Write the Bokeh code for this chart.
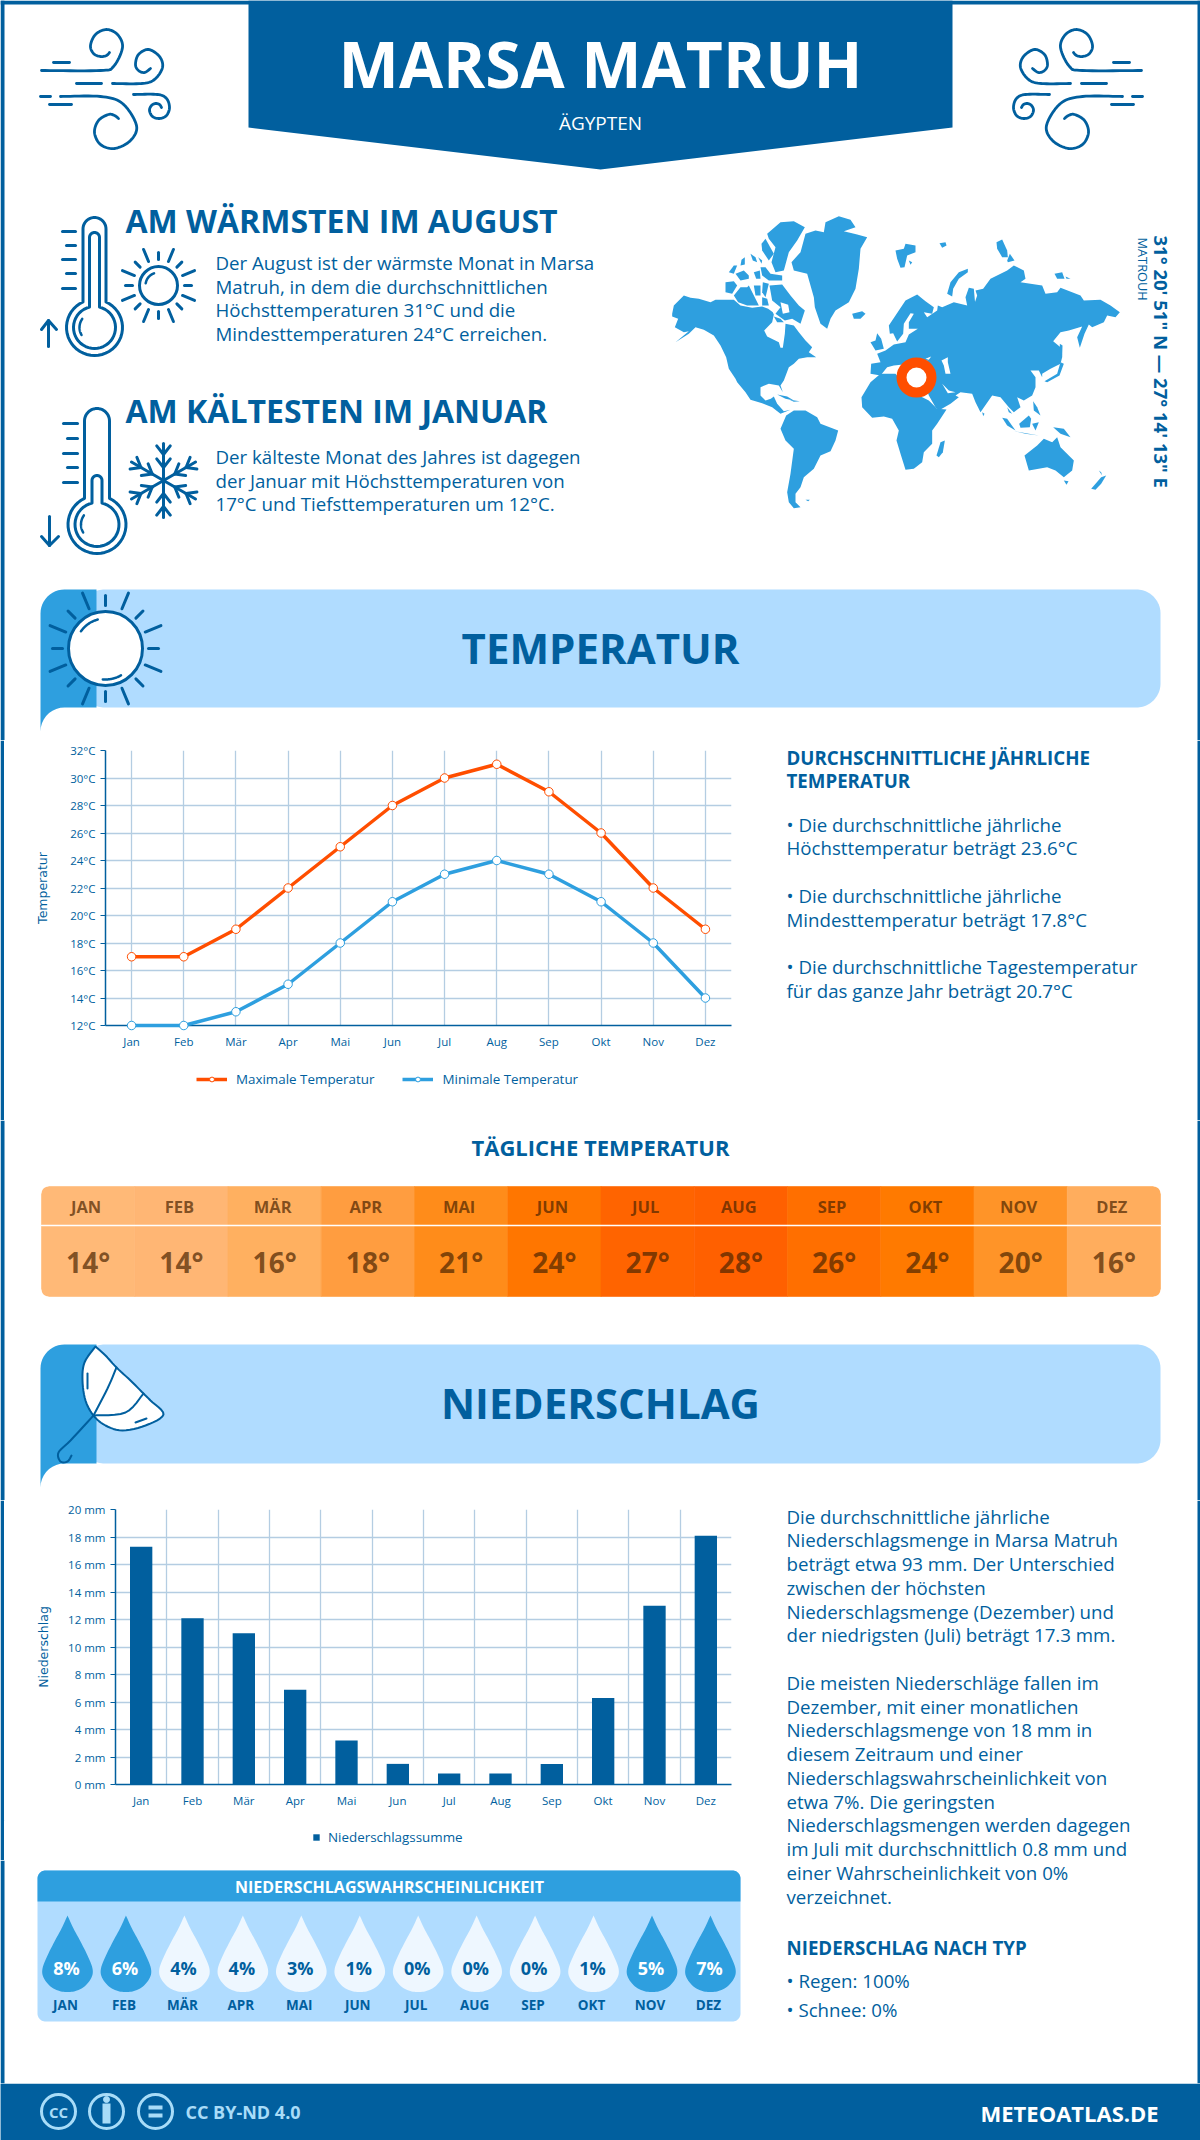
import math
from bokeh.plotting import figure
from bokeh.layouts import column, row
from bokeh.models import Range1d, FactorRange, FixedTicker, PrintfTickFormatter, Legend, LegendItem
from bokeh.core.properties import value
from bokeh.embed import file_html
from bokeh.resources import INLINE

# ---------- data ----------
MONTHS = ["Jan", "Feb", "Mär", "Apr", "Mai", "Jun", "Jul", "Aug", "Sep", "Okt", "Nov", "Dez"]
MONTHS_UP = ["JAN", "FEB", "MÄR", "APR", "MAI", "JUN", "JUL", "AUG", "SEP", "OKT", "NOV", "DEZ"]
TEMP_MAX = [17, 17, 19, 22, 25, 28, 30, 31, 29, 26, 22, 19]
TEMP_MIN = [12, 12, 13, 15, 18, 21, 23, 24, 23, 21, 18, 14]
DAILY = [14, 14, 16, 18, 21, 24, 27, 28, 26, 24, 20, 16]
PRECIP = [17.3, 12.1, 11.0, 6.9, 3.2, 1.5, 0.8, 0.8, 1.5, 6.3, 13.0, 18.1]
PROB = [8, 6, 4, 4, 3, 1, 0, 0, 0, 1, 5, 7]
DAILY_COLORS = ["#ffb977", "#ffb674", "#ffb060", "#ff9d40", "#ff8c1a", "#ff7600",
                "#ff6400", "#ff6000", "#ff6f00", "#ff7a00", "#ff9428", "#ffad5d"]

WARM_TEXT = ["Der August ist der wärmste Monat in Marsa", "Matruh, in dem die durchschnittlichen",
             "Höchsttemperaturen 31°C und die", "Mindesttemperaturen 24°C erreichen."]
COLD_TEXT = ["Der kälteste Monat des Jahres ist dagegen", "der Januar mit Höchsttemperaturen von",
             "17°C und Tiefsttemperaturen um 12°C."]
TEMP_SIDE = [("• Die durchschnittliche jährliche", 824), ("Höchsttemperatur beträgt 23.6°C", 847),
             ("• Die durchschnittliche jährliche", 895), ("Mindesttemperatur beträgt 17.8°C", 919),
             ("• Die durchschnittliche Tagestemperatur", 966), ("für das ganze Jahr beträgt 20.7°C", 990)]
PRECIP_SIDE = [("Die durchschnittliche jährliche", 1516), ("Niederschlagsmenge in Marsa Matruh", 1539),
               ("beträgt etwa 93 mm. Der Unterschied", 1563), ("zwischen der höchsten", 1587),
               ("Niederschlagsmenge (Dezember) und", 1611), ("der niedrigsten (Juli) beträgt 17.3 mm.", 1634),
               ("Die meisten Niederschläge fallen im", 1682), ("Dezember, mit einer monatlichen", 1706),
               ("Niederschlagsmenge von 18 mm in", 1729), ("diesem Zeitraum und einer", 1753),
               ("Niederschlagswahrscheinlichkeit von", 1777), ("etwa 7%. Die geringsten", 1801),
               ("Niederschlagsmengen werden dagegen", 1824), ("im Juli mit durchschnittlich 0.8 mm und", 1848),
               ("einer Wahrscheinlichkeit von 0%", 1872), ("verzeichnet.", 1896),
               ("• Regen: 100%", 1980), ("• Schnee: 0%", 2009)]

DARK = "#015f9e"
MID = "#2e9fdf"
LIGHT = "#b0dcff"
ORANGE = "#ff4e00"
GRID = "#b4cde2"
FONT = "Open Sans"
PX0, PX1, PY0, PY1 = 0, 1200, 0, 2140
BODY = 18.7


# ---------- helpers ----------
def canvas(x0, x1, y0, y1):
    p = figure(width=x1 - x0, height=y1 - y0, x_range=Range1d(x0, x1), y_range=Range1d(y1, y0),
               x_axis_location=None, y_axis_location=None, toolbar_location=None,
               output_backend="svg", min_border=0, outline_line_color=None, background_fill_color="white")
    p.xgrid.visible = False
    p.ygrid.visible = False
    if x0 == PX0:
        p.quad(left=[x0], right=[x0 + 4], top=[y0], bottom=[y1], color=DARK, line_color=None)
    if x1 == PX1:
        p.quad(left=[x1 - 3], right=[x1], top=[y0], bottom=[y1], color=DARK, line_color=None)
    return p


def T(p, x, y, s, size, bold=False, color=DARK, align="left", angle=0.0, alpha=1.0, font=FONT):
    p.text(x=[x], y=[y], text=[s], text_font=value(font), text_font_size=value(f"{size}px"),
           text_font_style="bold" if bold else "normal", text_color=color, text_alpha=alpha,
           text_align=align, text_baseline="middle", angle=angle)


def smooth(pts, n=10):
    P = [pts[0]] + list(pts) + [pts[-1]]
    xs, ys = [], []
    for i in range(1, len(P) - 2):
        for k in range(n):
            t = k / n
            a, b, c, d = P[i - 1], P[i], P[i + 1], P[i + 2]
            for j, out in ((0, xs), (1, ys)):
                out.append(0.5 * (2 * b[j] + (c[j] - a[j]) * t + (2 * a[j] - 5 * b[j] + 4 * c[j] - d[j]) * t * t
                                  + (3 * b[j] - a[j] - 3 * c[j] + d[j]) * t ** 3))
    xs.append(P[-2][0])
    ys.append(P[-2][1])
    return xs, ys


def arc(cx, cy, r, a0, a1, n=24):
    return [(cx + r * math.cos(math.radians(a0 + (a1 - a0) * i / n)),
             cy + r * math.sin(math.radians(a0 + (a1 - a0) * i / n))) for i in range(n + 1)]


def rrect(x0, y0, x1, y1, r):
    pts = arc(x0 + r, y0 + r, r, 180, 270) + arc(x1 - r, y0 + r, r, 270, 360) + \
        arc(x1 - r, y1 - r, r, 0, 90) + arc(x0 + r, y1 - r, r, 90, 180)
    return [a[0] for a in pts], [a[1] for a in pts]


def L(p, xs, ys, w=3, color=DARK, cap="round"):
    p.line(xs, ys, line_width=w, line_color=color, line_cap=cap, line_join="round")


def seg(p, x0, y0, x1, y1, w=3, color=DARK):
    L(p, [x0, x1], [y0, y1], w, color)


def wind(p, mirror=None):
    f = (lambda x: x) if mirror is None else (lambda x: mirror - x)
    curves = [
        [(41, 70), (100, 70), (113, 66), (122, 47), (117, 34), (106, 29), (95, 34), (90, 45), (93, 53), (100, 56),
         (106, 55), (109, 52)],
        [(112, 83), (141, 83), (154, 79), (162, 67), (159, 56), (148, 49), (138, 54), (135, 64), (138, 70), (144, 72),
         (150, 68)],
        [(60, 96), (100, 96), (122, 103), (136, 125), (130, 140), (114, 148), (100, 144), (94, 132), (98, 120),
         (108, 114), (114, 115), (118, 118)],
        [(133, 94), (157, 94), (166, 98), (169, 107), (166, 115), (159, 118), (152, 116), (149, 110), (151, 105),
         (155, 103), (159, 104), (161, 107)],
    ]
    for c in curves:
        xs, ys = smooth(c)
        L(p, [f(x) for x in xs], ys, 2.8)
    for a, b, y in [(53, 69, 62), (76, 101, 83), (40, 50, 96), (49, 71, 104)]:
        seg(p, f(a), y, f(b), y, 2.8)


def therm(p, cx, top, tw, cy, r, itop, itw, ir):
    for t, w, rad in ((top, tw, r), (itop, itw, ir)):
        a = math.degrees(math.asin(w / rad))
        pts = arc(cx, t + w, w, 180, 360) + arc(cx, cy, rad, -90 + a, 270 - a, 40)
        L(p, [q[0] for q in pts] + [pts[0][0]], [q[1] for q in pts] + [pts[0][1]], 3)


def rays(p, cx, cy, r0, long_r, short_r, w=3):
    for i in range(16):
        a = math.radians(i * 22.5)
        rr = short_r if i % 2 == 0 else long_r
        seg(p, cx + r0 * math.sin(a), cy - r0 * math.cos(a), cx + rr * math.sin(a), cy - rr * math.cos(a), w)


def band(p, y0, y1):
    xs, ys = rrect(80, y0, 1160, y1, 24)
    p.patch(xs, ys, color=LIGHT, line_color=None)
    tail = arc(64, y0 + 24, 24, 180, 270, 12) + [(96, y0), (96, y1), (64, y1)] + \
        [(64 - 24 * math.sin(math.radians(t)), y1 + 24 - 24 * math.cos(math.radians(t))) for t in range(0, 91, 10)]
    p.patch([q[0] for q in tail], [q[1] for q in tail], color=MID, line_color=None)


# ---------- top section ----------
top = canvas(PX0, PX1, PY0, 740)
top.quad(left=[PX0], right=[PX1], top=[PY0], bottom=[PY0 + 4], color=DARK, line_color=None)
top.patch([248, 952, 952, 600, 248], [0, 0, 127, 169, 127], color=DARK, line_color=None)
wind(top)
wind(top, 1182)
T(top, 600, 63, "MARSA MATRUH", 64, True, "white", "center")
T(top, 600, 122, "ÄGYPTEN", 19, False, "white", "center")

T(top, 125, 220, "AM WÄRMSTEN IM AUGUST", 32, True)
T(top, 125, 410, "AM KÄLTESTEN IM JANUAR", 32, True)
for i, s in enumerate(WARM_TEXT):
    T(top, 215, 262 + i * 23.7, s, BODY)
for i, s in enumerate(COLD_TEXT):
    T(top, 215, 456 + i * 23.5, s, BODY)

therm(top, 94, 217, 11.5, 327, 28, 232, 5, 21)
for i, (a, y) in enumerate([(62, 231), (66, 245), (62, 259), (66, 273), (62, 288)]):
    seg(top, a, y, 75, y)
seg(top, 48, 320, 48, 346)
L(top, [41, 48, 56], [329, 320, 329])
top.circle([158], [285], radius=19, fill_color="white", line_color=DARK, line_width=3)
rays(top, 158, 285, 26, 39, 33)
L(top, *smooth(arc(158, 285, 13, 190, 250, 5)), 2.5)
L(top, *smooth(arc(94, 327, 15, 150, 215, 5)), 2.5)

therm(top, 96.5, 408, 12.5, 524, 29, 475, 5, 22)
for a, y in [(63, 423), (67, 438), (63, 453), (67, 467), (63, 482)]:
    seg(top, a, y, 77, y)
seg(top, 49, 516, 49, 545)
L(top, [41, 49, 58], [536, 545, 536])
L(top, *smooth(arc(96.5, 524, 16, 150, 215, 5)), 2.5)
for k in range(6):
    a = math.radians(k * 60)
    sx, cy_ = math.sin(a), -math.cos(a)
    cx0, cy0 = 163, 480
    seg(top, cx0, cy0, cx0 + 37 * sx, cy0 + 37 * cy_, 3)
    for rr, spread in ((26, 9), (13, 9)):
        for sgn in (-1, 1):
            bx_, by_ = cx0 + rr * sx, cy0 + rr * cy_
            a2 = a + sgn * math.radians(38)
            seg(top, bx_, by_, bx_ + (spread + 2) * math.sin(a2), by_ - (spread + 2) * math.cos(a2), 3)

# world map outline, traced by hand from two crops of the picture
WEST = [
    [(20, 310), (25, 285), (55, 255), (75, 262), (100, 265), (135, 275), (150, 268), (175, 268), (205, 268), (225, 285),
     (260, 292), (290, 288), (308, 295), (322, 305), (325, 312), (320, 335), (296, 360), (305, 378), (340, 395),
     (345, 412), (352, 412), (358, 370), (360, 340), (385, 345), (400, 365), (420, 390), (440, 410), (430, 425),
     (452, 440), (425, 440), (400, 445), (385, 460), (370, 470), (355, 510), (345, 525), (352, 545), (340, 525),
     (310, 520), (285, 530), (285, 555), (300, 570), (316, 565), (325, 558), (335, 580), (355, 602), (375, 598),
     (345, 610), (320, 590), (290, 578), (255, 568), (240, 545), (215, 515), (210, 505), (190, 475), (182, 440),
     (165, 405), (145, 375), (115, 358), (90, 350), (70, 370), (30, 395), (70, 362), (55, 365), (28, 350), (38, 325),
     (20, 318)],
    [(378, 155), (405, 125), (420, 70), (450, 60), (475, 65), (480, 35), (520, 17), (555, 28), (570, 50), (535, 62),
     (575, 72), (605, 80), (585, 115), (580, 175), (570, 235), (550, 275), (510, 300), (495, 325), (485, 355),
     (465, 340), (448, 290), (445, 260), (425, 190), (385, 180)],
    [(305, 70), (345, 35), (385, 32), (418, 50), (395, 90), (370, 125), (355, 180), (330, 185), (318, 155), (330, 110),
     (310, 85)],
    [(288, 100), (300, 85), (325, 130), (310, 150), (290, 120)],
    [(190, 185), (205, 165), (215, 165), (205, 190)],
    [(228, 148), (238, 140), (238, 162), (225, 165)],
    [(210, 190), (235, 180), (250, 195), (250, 205), (225, 210)],
    [(255, 130), (270, 140), (275, 155), (262, 150)],
    [(278, 140), (290, 150), (288, 160)],
    [(265, 185), (283, 180), (285, 205), (272, 205)],
    [(285, 170), (300, 170), (315, 190), (350, 195), (350, 210), (310, 210), (290, 195)],
    [(180, 215), (205, 212), (215, 225), (200, 250), (180, 245)],
    [(205, 255), (225, 230), (245, 230), (250, 225), (270, 265), (280, 285), (245, 285), (218, 275)],
    [(265, 225), (285, 225), (285, 255), (270, 255)],
    [(292, 215), (310, 220), (300, 260), (290, 245)],
    [(290, 260), (305, 265), (310, 285), (290, 285)],
    [(312, 225), (350, 222), (375, 255), (400, 285), (418, 300), (405, 340), (380, 325), (358, 330), (330, 310),
     (345, 290), (320, 270)],
    [(325, 318), (345, 325), (355, 335), (335, 335)],
    [(560, 310), (590, 302), (600, 310), (585, 325), (565, 325)],
    [(335, 552), (365, 558), (385, 570), (360, 565)],
    [(372, 568), (403, 572), (385, 574)],
    [(345, 655), (362, 615), (385, 600), (420, 600), (455, 620), (465, 640), (518, 660), (510, 690), (495, 722),
     (465, 735), (445, 775), (415, 800), (405, 830), (390, 850), (390, 875), (405, 890), (385, 893), (370, 875),
     (365, 845), (375, 790), (385, 715), (360, 690)],
    [(420, 868), (433, 868), (428, 872)],
]
EAST = [
    [(105, 120), (130, 115), (135, 100), (165, 105), (165, 125), (140, 135), (132, 170), (120, 172), (110, 145)],
    [(145, 150), (155, 155), (150, 163)],
    [(237, 98), (255, 95), (258, 105), (245, 112)],
    [(260, 250), (270, 215), (295, 185), (322, 175), (322, 185), (295, 205), (278, 235), (275, 258)],
    [(408, 95), (425, 87), (440, 120), (442, 140), (425, 140), (410, 115)],
    [(440, 150), (448, 130), (462, 150), (442, 155)],
    [(582, 190), (605, 185), (612, 205), (590, 205)],
    [(615, 198), (630, 205), (618, 205)],
    [(85, 345), (115, 300), (135, 270), (170, 252), (195, 272), (220, 290), (215, 310), (190, 305), (200, 320), (230, 300),
     (232, 285), (245, 290), (280, 275), (320, 285), (315, 260), (325, 232), (340, 235), (345, 290), (335, 300),
     (350, 255), (345, 240), (368, 235), (390, 205), (440, 180), (460, 165), (490, 180), (495, 205), (480, 215),
     (545, 225), (555, 250), (590, 245), (600, 232), (660, 255), (670, 270), (720, 268), (750, 285), (778, 305),
     (765, 320), (740, 315), (730, 335), (695, 350), (685, 342), (672, 370), (658, 412), (650, 380), (665, 348),
     (625, 360), (600, 365), (578, 392), (600, 410), (605, 440), (600, 460), (570, 475), (545, 490), (545, 500),
     (535, 480), (510, 480), (525, 500), (525, 530), (515, 555), (490, 570), (470, 560), (480, 590), (460, 605),
     (445, 590), (420, 560), (395, 555), (360, 605), (345, 575), (335, 550), (300, 545), (285, 555), (295, 560),
     (270, 580), (235, 600), (225, 590), (205, 555), (200, 540), (215, 500), (210, 470), (200, 450), (150, 460),
     (100, 465), (80, 470), (60, 495), (30, 490), (32, 460), (60, 455), (50, 430), (75, 420), (100, 402), (135, 395),
     (145, 372), (172, 355), (145, 355), (145, 335), (160, 310), (150, 308), (130, 340), (128, 370), (110, 393),
     (98, 368), (88, 370)],
    [(30, 395), (45, 390), (50, 368), (62, 385), (70, 415), (45, 420)],
    [(3, 560), (30, 515), (60, 490), (105, 490), (130, 520), (175, 555), (205, 570), (230, 595), (258, 597), (230, 640),
     (215, 660), (215, 700), (190, 725), (185, 755), (160, 775), (135, 778), (120, 730), (108, 690), (115, 660),
     (95, 625), (70, 618), (35, 622), (5, 590)],
    [(228, 735), (240, 695), (253, 690), (247, 725), (235, 740)],
    [(365, 605), (372, 610), (368, 617)],
    [(552, 512), (590, 490), (600, 455), (610, 460), (597, 495), (560, 515)],
    [(598, 400), (606, 405), (605, 440), (598, 430)],
    [(425, 622), (440, 625), (465, 660), (440, 645)],
    [(462, 662), (535, 675), (495, 670)],
    [(476, 640), (505, 615), (512, 625), (508, 650), (480, 652)],
    [(440, 590), (455, 610), (445, 605)],
    [(518, 572), (530, 590), (540, 615), (520, 600)],
    [(515, 640), (535, 635), (525, 660)],
    [(578, 650), (610, 655), (630, 680), (600, 670)],
    [(492, 735), (530, 705), (550, 685), (575, 695), (590, 680), (600, 710), (640, 750), (635, 780), (610, 800),
     (585, 780), (560, 770), (505, 780)],
    [(610, 810), (624, 812), (618, 823)],
    [(692, 835), (722, 800), (737, 795), (722, 820), (705, 838)],
    [(715, 780), (722, 785), (725, 795)],
]
WEST_CUT = [[(345, 275), (368, 283), (372, 305), (352, 310)]]
EAST_CUT = [[(243, 450), (262, 440), (262, 455), (270, 490), (255, 490), (250, 465)],
            [(245, 520), (265, 540), (285, 545), (262, 548)],
            [(195, 445), (212, 438), (205, 448)]]


def map_layer(p, polys, ox, color):
    p.patches([[ox + a / 3 for a, _ in q] for q in polys], [[210 + b / 3 for _, b in q] for q in polys],
              color=color, line_color=None)


map_layer(top, WEST, 665, MID)
map_layer(top, EAST, 860, MID)
map_layer(top, WEST_CUT, 665, "white")
map_layer(top, EAST_CUT, 860, "white")
top.circle([916], [377], radius=15, fill_color="white", line_color=ORANGE, line_width=10)
T(top, 1161, 235, "31° 20' 51\" N — 27° 14' 13\" E", 18.5, True, angle=-math.pi / 2)
T(top, 1142, 237, "MATROUH", 12.8, False, angle=-math.pi / 2)

band(top, 589, 707)
T(top, 600, 647, "TEMPERATUR", 42, True, align="center")
top.circle([105], [648], radius=37, fill_color="white", line_color=DARK, line_width=3)
rays(top, 105, 648, 43, 60, 53, 3)
L(top, *smooth(arc(105, 648, 30, 215, 255, 4)), 2.5)
L(top, *smooth(arc(105, 648, 31, 60, 95, 4)), 2.5)

# ---------- temperature chart ----------
tc = figure(width=756, height=320, x_range=FactorRange(*MONTHS, range_padding=0, factor_padding=0),
            y_range=Range1d(12, 32), toolbar_location=None, output_backend="svg",
            min_border_left=101, min_border_right=29, min_border_top=10, min_border_bottom=35,
            outline_line_color=None)
tc.yaxis.ticker = FixedTicker(ticks=list(range(12, 33, 2)))
tc.yaxis.formatter = PrintfTickFormatter(format="%d°C")
tc.yaxis.axis_label = "Temperatur"
tc.xaxis.major_tick_line_color = None
tc.line(MONTHS, TEMP_MAX, line_color=ORANGE, line_width=3.5, level="overlay")
tc.scatter(MONTHS, TEMP_MAX, size=8.5, fill_color="white", line_color=ORANGE, line_width=1, level="overlay")
tc.line(MONTHS, TEMP_MIN, line_color=MID, line_width=3.5, level="overlay")
tc.scatter(MONTHS, TEMP_MIN, size=8.5, fill_color="white", line_color=MID, line_width=1, level="overlay")

# legend strip under the temperature chart
tl = canvas(4, 760, 1060, 1120)
k1 = tl.line([-50, -40], [-50, -40], line_color=ORANGE, line_width=3.5)
k2 = tl.scatter([-50], [-50], size=8.5, fill_color="white", line_color=ORANGE, line_width=1)
k3 = tl.line([-50, -40], [-50, -40], line_color=MID, line_width=3.5)
k4 = tl.scatter([-50], [-50], size=8.5, fill_color="white", line_color=MID, line_width=1)
tl.add_layout(Legend(items=[LegendItem(label="Maximale Temperatur", renderers=[k1, k2]),
                            LegendItem(label="Minimale Temperatur", renderers=[k3, k4])],
                     orientation="horizontal", location=(192, 32), border_line_color=None,
                     background_fill_alpha=0, glyph_width=31, glyph_height=12, label_standoff=9, spacing=28,
                     label_text_font=FONT, label_text_font_size="13.4px", label_text_color=DARK,
                     padding=0, margin=0))

ts = canvas(760, PX1, 740, 1120)
T(ts, 786, 757, "DURCHSCHNITTLICHE JÄHRLICHE", BODY, True)
T(ts, 786, 780, "TEMPERATUR", BODY, True)
for s, y in TEMP_SIDE:
    T(ts, 786, y, s, BODY)


def style_chart(p, label_standoff):
    for ax in p.axis:
        ax.axis_line_color = DARK
        ax.axis_line_width = 1.5
        ax.major_label_text_color = DARK
        ax.major_label_text_font = FONT
        ax.major_label_text_font_size = "11.5px"
        ax.minor_tick_line_color = None
        ax.axis_label_text_color = DARK
        ax.axis_label_text_font = "DejaVu Sans"
        ax.axis_label_text_font_size = "12.5px"
        ax.axis_label_text_font_style = "normal"
    p.yaxis.axis_label_standoff = label_standoff
    p.yaxis.major_tick_line_color = DARK
    p.yaxis.major_tick_out = 5
    p.yaxis.major_tick_in = 0
    p.yaxis.major_label_standoff = 5
    p.xaxis.major_label_standoff = 8
    p.xaxis.major_tick_out = 0
    p.xaxis.major_tick_in = 0
    for g in p.grid:
        g.grid_line_color = GRID
        g.grid_line_width = 1.3


style_chart(tc, 17)

# ---------- daily + precipitation band ----------
mid = canvas(PX0, PX1, 1120, 1500)
T(mid, 600, 1146, "TÄGLICHE TEMPERATUR", 22, True, align="center")
CX0, CW = 41, (1160 - 41) / 12
mid.quad(left=[CX0 + i * CW for i in range(12)], right=[CX0 + (i + 1) * CW for i in range(12)],
         top=[1186] * 12, bottom=[1296] * 12, color=DAILY_COLORS, line_color=DAILY_COLORS, line_width=0.6)
for (x, y, sx, sy) in [(41, 1186, 1, 1), (1160, 1186, -1, 1), (41, 1296, 1, -1), (1160, 1296, -1, -1)]:
    r = 7
    pts = [(x - sx, y - sy), (x + sx * r, y - sy)] + \
        [(x + sx * (r - r * math.sin(math.radians(t))), y + sy * (r - r * math.cos(math.radians(t))))
         for t in range(0, 91, 15)] + [(x - sx, y + sy * r)]
    mid.patch([q[0] for q in pts], [q[1] for q in pts], color="white", line_color=None)
seg(mid, 41, 1225, 1160, 1225, 1.5, "white")
for i in range(12):
    cx = CX0 + (i + .5) * CW
    T(mid, cx - 2, 1206, MONTHS_UP[i], 16.5, True, "#4a2400", "center", alpha=.7)
    T(mid, cx, 1261, f"{DAILY[i]}°", 28, True, "#4a2400", "center", alpha=.7)
band(mid, 1344, 1463)
T(mid, 600, 1402, "NIEDERSCHLAG", 42, True, align="center")
ux, uy = smooth([(95, 1346), (84, 1362), (82, 1380), (85, 1400), (93, 1415), (105, 1425), (122, 1430), (145, 1425),
                 (163, 1414), (150, 1400), (143, 1393), (130, 1380), (116, 1367), (105, 1355), (95, 1346)], 6)
mid.patch(ux, uy, fill_color="white", line_color=DARK, line_width=2)
L(mid, *smooth([(116, 1367), (107, 1388), (93, 1415)], 6), 2)
L(mid, *smooth([(143, 1393), (125, 1412), (93, 1415)], 6), 2)
L(mid, *smooth([(93, 1415), (70, 1440), (58, 1452), (60, 1461), (67, 1461), (71, 1455)], 6), 2)
seg(mid, 135, 1422, 146, 1418, 2)
seg(mid, 87, 1373, 87, 1388, 2)

# ---------- precipitation chart ----------
pc = figure(width=756, height=320, x_range=Range1d(-0.5, 11.5), y_range=Range1d(0, 20),
            toolbar_location=None, output_backend="svg",
            min_border_left=111, min_border_right=29, min_border_top=9, min_border_bottom=36,
            outline_line_color=None)
IDX = list(range(12))
pc.vbar(x=IDX, top=PRECIP, width=0.435, color=DARK, line_color=None)
pc.xaxis.ticker = FixedTicker(ticks=IDX)
pc.xaxis.major_label_overrides = {i: m for i, m in enumerate(MONTHS)}
pc.yaxis.ticker = FixedTicker(ticks=list(range(0, 21, 2)))
pc.yaxis.formatter = PrintfTickFormatter(format="%d mm")
pc.yaxis.axis_label = "Niederschlag"
pc.xgrid.ticker = FixedTicker(ticks=[i + .5 for i in range(11)])
style_chart(pc, 14)

pl = canvas(4, 760, 1820, 1860)
k5 = pl.vbar(x=[-50], top=[-50], width=1, color=DARK, line_color=None)
pl.add_layout(Legend(items=[LegendItem(label="Niederschlagssumme", renderers=[k5])],
                     orientation="horizontal", location=(308, 14), border_line_color=None,
                     background_fill_alpha=0, glyph_width=8, glyph_height=8, label_standoff=8,
                     label_text_font=FONT, label_text_font_size="13.4px", label_text_color=DARK,
                     padding=0, margin=0))

# ---------- probability panel ----------
pp = canvas(PX0, 760, 1860, 2083)
px, py = rrect(37, 1870, 740, 2021, 8)
pp.patch(px, py, color=LIGHT, line_color=None)
hx, hy = rrect(37, 1870, 740, 1925, 8)
pp.patch(hx, [min(b, 1901) for b in hy], color=MID, line_color=None)
T(pp, 389, 1886, "NIEDERSCHLAGSWAHRSCHEINLICHKEIT", 16, True, "white", "center")
DROP = [(0, -51), (6, -38), (13, -25), (20, -11), (25, 2), (24, 11), (17, 20), (8, 24.5), (0, 25.5)]
for i in range(12):
    cx = 67 + 58.45 * i
    cy = 1966
    pts = DROP + [(-a, b) for a, b in DROP[-2:0:-1]] + [DROP[0]]
    xs, ys = smooth([(cx + a, cy + b) for a, b in pts], 6)
    hot = PROB[i] >= 5
    pp.patch(xs, ys, color=MID if hot else "#eef7ff", line_color=None)
    T(pp, cx - 1, 1967, f"{PROB[i]}%", 18, True, "white" if hot else DARK, "center")
    T(pp, cx - 2, 2004, MONTHS_UP[i], 13.5, True, DARK, "center")

ps = canvas(760, PX1, 1500, 2083)
for s, y in PRECIP_SIDE:
    T(ps, 786, y, s, BODY)
T(ps, 786, 1947, "NIEDERSCHLAG NACH TYP", BODY, True)

# ---------- footer ----------
ft = canvas(PX0, PX1, 2083, PY1)
ft.quad(left=[PX0], right=[PX1], top=[2083], bottom=[PY1], color=DARK, line_color=None)
ICON = "#a8dcf8"
ft.circle([58, 106, 155], [2111] * 3, radius=17, fill_color=None, line_color=ICON, line_width=3)
T(ft, 58, 2111, "CC", 15, True, ICON, "center")
ft.circle([106], [2099], radius=3, color=ICON)
ft.quad(left=[102], right=[110], top=[2103], bottom=[2123], color=ICON, line_color=None)
ft.quad(left=[148, 148], right=[162, 162], top=[2105, 2113], bottom=[2109, 2117], color=ICON, line_color=None)
T(ft, 185, 2111, "CC BY-ND 4.0", 18, True, ICON)
T(ft, 980, 2112, "METEOATLAS.DE", 22, True, "white")

ls1 = canvas(PX0, 4, 740, 1120)
ls2 = canvas(PX0, 4, 1500, 1860)
page = column(top,
              row(column(ls1), column(row(tc), row(tl), spacing=0), column(ts), spacing=0),
              mid,
              row(column(row(column(ls2), column(row(pc), row(pl), spacing=0), spacing=0), row(pp), spacing=0),
                  column(ps), spacing=0),
              ft, spacing=0)
open("out.html", "w").write(file_html(page, INLINE))
